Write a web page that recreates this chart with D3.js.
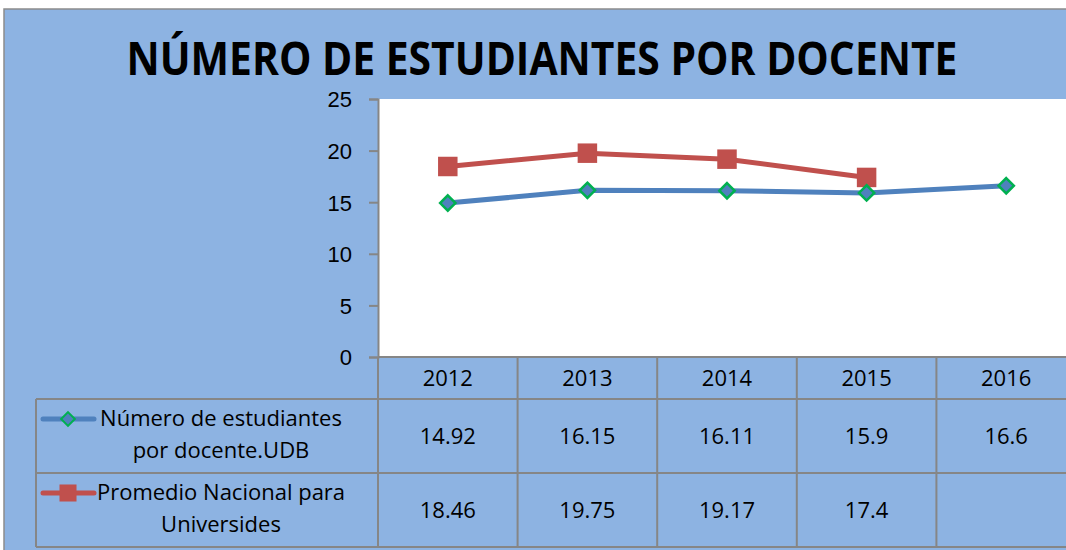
<!DOCTYPE html>
<html>
<head>
<meta charset="utf-8">
<script src="https://cdn.jsdelivr.net/npm/d3@7"></script>
<style>
  body { margin: 0; background: #ffffff; }
  svg { display: block; font-family: "Open Sans", sans-serif; }
</style>
</head>
<body>
<svg id="chart" width="1066" height="550"></svg>
<script>
var years = ['2012', '2013', '2014', '2015', '2016'];
var udbValues = [14.92, 16.15, 16.11, 15.9, 16.6];
var nacionalValues = [18.46, 19.75, 19.17, 17.4, null];
var yTicks = [0, 5, 10, 15, 20, 25];
var udbLabel = ['Número de estudiantes', 'por docente.UDB'];
var nacionalLabel = ['Promedio Nacional para', 'Universides'];
var title = 'NÚMERO DE ESTUDIANTES POR DOCENTE';

var width = 1066, height = 550;
var blue = '#4f81bd', red = '#c0504d', green = '#00b050';
var grid = '#868686', bg = '#8db3e2';

var margin = { top: 99, left: 378, right: -10, bottom: 193 };
var tableLeft = 36;
var rowH = [42, 74, 74];
var fontSize = '22px';

var svg = d3.select('#chart');

// Chart area background
svg.append('rect')
    .attr('x', 4).attr('y', 9)
    .attr('width', width).attr('height', height)
    .attr('fill', bg)
    .attr('stroke', '#8c8c8c')
    .attr('stroke-width', 1.5);

svg.append('text')
    .attr('x', 542).attr('y', 75)
    .attr('text-anchor', 'middle')
    .attr('textLength', 831)
    .attr('lengthAdjust', 'spacingAndGlyphs')
    .style('font-size', '46px')
    .style('font-weight', 700)
    .style('fill', '#000')
    .text(title);

var x = d3.scaleBand()
    .domain(years)
    .range([margin.left, width - margin.right]);

var y = d3.scaleLinear()
    .domain([0, 25])
    .range([height - margin.bottom, margin.top]);

// Plot area
svg.append('rect')
    .attr('x', margin.left).attr('y', y(25))
    .attr('width', width - margin.left + 20)
    .attr('height', y(0) - y(25))
    .attr('fill', '#ffffff');

// Y axis
var yAxis = svg.append('g')
    .attr('transform', 'translate(' + margin.left + ',0)')
    .call(d3.axisLeft(y).tickValues(yTicks).tickSize(9).tickPadding(17));

yAxis.select('.domain').attr('stroke', grid).attr('stroke-width', 2);
yAxis.selectAll('.tick line').attr('stroke', grid).attr('stroke-width', 2);
yAxis.selectAll('.tick text')
    .style('font-size', fontSize)
    .style('fill', '#000')
    .attr('dy', '0.36em');

// Data table
var tableTop = y(0);
var rowY = [tableTop, tableTop + rowH[0], tableTop + rowH[0] + rowH[1], tableTop + rowH[0] + rowH[1] + rowH[2]];
var table = svg.append('g').attr('class', 'data-table');

// horizontal lines
table.append('line')
    .attr('x1', margin.left).attr('x2', width + 20)
    .attr('y1', rowY[0]).attr('y2', rowY[0]);
for (var r = 1; r < rowY.length; r++) {
    table.append('line')
        .attr('x1', tableLeft).attr('x2', width + 20)
        .attr('y1', rowY[r]).attr('y2', rowY[r]);
}
// vertical lines
table.append('line')
    .attr('x1', tableLeft).attr('x2', tableLeft)
    .attr('y1', rowY[1]).attr('y2', rowY[3]);
years.forEach(function(yr) {
    table.append('line')
        .attr('x1', x(yr)).attr('x2', x(yr))
        .attr('y1', rowY[0]).attr('y2', rowY[3]);
});
table.selectAll('line').attr('stroke', grid).attr('stroke-width', 2);

// header years
table.selectAll('text.year')
    .data(years)
    .enter().append('text')
        .attr('class', 'year')
        .attr('x', function(d) { return x(d) + x.bandwidth() / 2; })
        .attr('y', rowY[0] + 29)
        .attr('text-anchor', 'middle')
        .style('font-size', fontSize)
        .text(function(d) { return d; });

function valueRow(values, top, cls) {
    table.selectAll('text.' + cls)
        .data(values)
        .enter().append('text')
            .attr('class', cls)
            .attr('x', function(d, i) { return x(years[i]) + x.bandwidth() / 2; })
            .attr('y', top + 45)
            .attr('text-anchor', 'middle')
            .style('font-size', fontSize)
            .text(function(d) { return d == null ? '' : d; });
}
valueRow(udbValues, rowY[1], 'udb');
valueRow(nacionalValues, rowY[2], 'nac');

// legend cells
function legendCell(lines, top, color, symbolType, size, stroke) {
    var g = table.append('g');
    g.append('line')
        .attr('x1', 43).attr('x2', 94)
        .attr('y1', top + 20).attr('y2', top + 20)
        .attr('stroke', color).attr('stroke-width', 5)
        .attr('stroke-linecap', 'round');
    g.append('path')
        .attr('transform', 'translate(68,' + (top + 20) + ')')
        .attr('d', d3.symbol().type(symbolType).size(size)())
        .attr('fill', color)
        .attr('stroke', stroke)
        .attr('stroke-width', stroke === 'none' ? 0 : 2);
    g.selectAll('text')
        .data(lines)
        .enter().append('text')
            .attr('x', 221)
            .attr('y', function(d, i) { return top + 27 + i * 32; })
            .attr('text-anchor', 'middle')
            .style('font-size', fontSize)
            .text(function(d) { return d; });
}
legendCell(udbLabel, rowY[1], blue, d3.symbolDiamond2, 120, green);
legendCell(nacionalLabel, rowY[2], red, d3.symbolSquare, 290, 'none');

// Lines
var line = d3.line()
    .defined(function(d) { return d.v != null; })
    .x(function(d) { return x(d.year) + x.bandwidth() / 2; })
    .y(function(d) { return y(d.v); });

function series(values) {
    return values.map(function(v, i) { return { year: years[i], v: v }; });
}

var udbData = series(udbValues);
var nacData = series(nacionalValues);

svg.append('path')
    .datum(nacData)
    .attr('d', line)
    .attr('fill', 'none')
    .attr('stroke', red)
    .attr('stroke-width', 5);

svg.append('path')
    .datum(udbData)
    .attr('d', line)
    .attr('fill', 'none')
    .attr('stroke', blue)
    .attr('stroke-width', 5);

svg.selectAll('path.sq')
    .data(nacData.filter(function(d) { return d.v != null; }))
    .enter().append('path')
        .attr('class', 'sq')
        .attr('transform', function(d) { return 'translate(' + (x(d.year) + x.bandwidth() / 2) + ',' + y(d.v) + ')'; })
        .attr('d', d3.symbol().type(d3.symbolSquare).size(380)())
        .attr('fill', red);

svg.selectAll('path.dia')
    .data(udbData)
    .enter().append('path')
        .attr('class', 'dia')
        .attr('transform', function(d) { return 'translate(' + (x(d.year) + x.bandwidth() / 2) + ',' + y(d.v) + ')'; })
        .attr('d', d3.symbol().type(d3.symbolDiamond2).size(150)())
        .attr('fill', blue)
        .attr('stroke', green)
        .attr('stroke-width', 2.5);
</script>
</body>
</html>
